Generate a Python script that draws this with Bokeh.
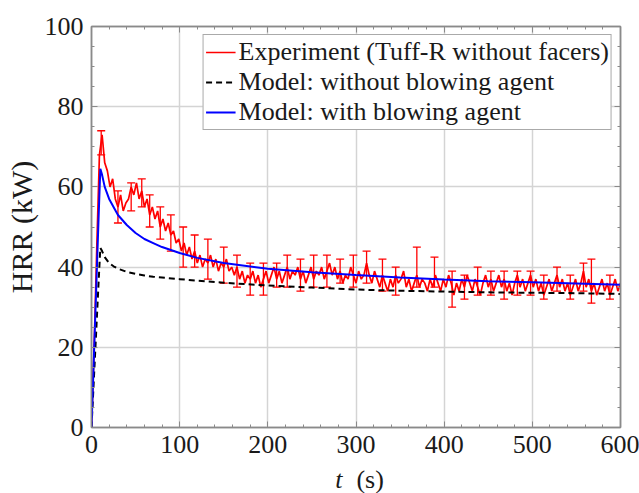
import math
from bokeh.plotting import figure
from bokeh.layouts import column
from bokeh.models import (ColumnDataSource, Whisker, TeeHead, LinearAxis, Legend,
                          LegendItem, FixedTicker)
from bokeh.core.properties import value
from bokeh.embed import file_html
from bokeh.resources import INLINE

# ---------------- data ----------------
exp_t = list(range(0, 601, 3))
exp_hrr = [0, 20, 45, 68, 73, 66, 64, 60, 62, 57, 55, 58, 54, 56, 57, 60, 58, 61, 57, 59,
           55, 57, 53, 55, 52, 54, 50, 52, 49, 51, 48, 49, 46, 47, 44, 46, 43, 45, 42, 44,
           41, 43, 40, 42, 41, 43, 40, 42, 39, 41, 40, 42, 39, 40, 38, 40, 37, 39, 36, 38,
           37, 39, 36, 38, 35, 37, 39, 36, 38, 40, 37, 39, 36, 38, 40, 37, 39, 38, 40, 37,
           39, 36, 38, 40, 37, 39, 38, 40, 37, 39, 41, 38, 40, 37, 39, 36, 38, 37, 40, 38,
           36, 39, 37, 38, 41, 38, 36, 39, 37, 35, 38, 36, 34, 37, 35, 38, 36, 37, 39, 35,
           37, 34, 36, 38, 35, 37, 36, 34, 37, 35, 38, 36, 34, 37, 35, 38, 36, 33, 36, 34,
           37, 35, 38, 36, 34, 37, 35, 33, 36, 38, 35, 37, 34, 36, 38, 35, 37, 34, 36, 33,
           36, 38, 35, 37, 34, 36, 38, 35, 37, 34, 36, 33, 35, 37, 34, 36, 38, 35, 37, 34,
           36, 33, 35, 37, 34, 36, 39, 35, 37, 34, 36, 33, 35, 37, 34, 36, 33, 35, 37, 34,
           36]

err_t = [11, 30, 45, 57, 66, 78, 90, 104, 117, 132, 150, 165, 180, 195, 210, 222, 237,
         252, 267, 282, 297, 312, 330, 345, 369, 389, 409, 423, 438, 453, 468, 483, 498,
         513, 528, 543, 558, 567, 588]
err_lo = [68, 51, 54, 55, 50, 47, 44, 40, 40, 37, 36, 35, 33, 33, 35, 35, 34,
          35, 35, 36, 35, 36, 34, 33, 35, 35, 30, 32, 33, 33, 32, 33, 33,
          32, 34, 32, 34, 31, 32]
err_hi = [74, 59, 61, 62, 58, 55, 53, 50, 48, 47, 45, 43, 41, 41, 41, 43, 42,
          43, 43, 42, 43, 44, 42, 40, 45, 42.5, 39, 38, 40, 39, 39, 39, 39,
          38, 40, 38, 41, 42, 38]

model_t = [0, 2, 4, 6, 8, 10, 12, 15, 20, 25, 30, 40, 50, 60, 70, 80, 100, 120, 150,
           200, 250, 300, 350, 400, 450, 500, 550, 600]
model_with = [0, 13, 26, 39, 52, 64.5, 63, 60, 57, 55, 53, 50.5, 48.5, 47, 46, 45, 43.5,
              42.3, 41, 39.6, 38.7, 38, 37.4, 36.9, 36.5, 36.2, 35.9, 35.6]
model_without = [0, 9, 18, 27, 36, 44.8, 44, 42.5, 41, 40.2, 39.6, 38.8, 38.3, 37.9, 37.6,
                 37.4, 37.0, 36.6, 36.1, 35.4, 34.9, 34.4, 34.1, 33.9, 33.7, 33.6, 33.5, 33.3]

x_ticks = [0, 100, 200, 300, 400, 500, 600]
y_ticks = [0, 20, 40, 60, 80, 100]

legend_labels = ["Experiment (Tuff-R without facers)",
                 "Model: without blowing agent",
                 "Model: with blowing agent"]
x_title_parts = ["t", "(s)"]

FONT = "Liberation Serif"
GRID = "#d4d4d4"
FRAME = "#8a8a8a"

# ---------------- main figure ----------------
p = figure(width=639, height=460, x_range=(0, 600), y_range=(0, 100),
           output_backend="svg", toolbar_location=None,
           min_border_left=91, min_border_right=19, min_border_top=26,
           min_border_bottom=33)
p.outline_line_color = FRAME
p.outline_line_width = 1.5
p.background_fill_color = "white"
p.border_fill_color = "white"

xt = FixedTicker(ticks=x_ticks, minor_ticks=list(range(0, 601, 20)))
yt = FixedTicker(ticks=y_ticks, minor_ticks=list(range(0, 101, 5)))

p.xaxis.ticker = xt
p.yaxis.ticker = yt
p.xgrid.ticker = xt
p.ygrid.ticker = yt
for g in (p.xgrid, p.ygrid):
    g.grid_line_color = GRID
    g.grid_line_width = 1.5

for ax in (p.xaxis[0], p.yaxis[0]):
    ax.axis_line_color = FRAME
    ax.axis_line_width = 1.5
    ax.major_tick_line_color = FRAME
    ax.minor_tick_line_color = FRAME
    ax.major_tick_in = 6
    ax.major_tick_out = 0
    ax.minor_tick_in = 3
    ax.minor_tick_out = 0
    ax.major_label_text_font = FONT
    ax.major_label_text_font_size = "26px"
    ax.major_label_text_color = "#1a1a1a"

p.xaxis.major_label_standoff = 8
p.xaxis.major_label_text_line_height = 0.95
p.yaxis.major_label_standoff = 8
p.yaxis.axis_label = "HRR (kW)"
p.yaxis.axis_label_text_font = FONT
p.yaxis.axis_label_text_font_size = "30px"
p.yaxis.axis_label_text_font_style = "normal"
p.yaxis.axis_label_text_color = "#1a1a1a"
p.yaxis.axis_label_standoff = 4

# mirrored axes (ticks only)
for loc, tk, vals in (("right", yt, y_ticks), ("above", xt, x_ticks)):
    ax = LinearAxis(ticker=tk, major_label_overrides={v: "" for v in vals})
    ax.axis_line_color = FRAME
    ax.axis_line_width = 1.5
    ax.major_tick_line_color = FRAME
    ax.minor_tick_line_color = FRAME
    ax.major_tick_in = 6
    ax.major_tick_out = 0
    ax.minor_tick_in = 3
    ax.minor_tick_out = 0
    ax.major_label_standoff = 0
    ax.major_label_text_font_size = "1px"
    p.add_layout(ax, loc)

# ---------------- glyphs ----------------
src_exp = ColumnDataSource(dict(t=exp_t, y=exp_hrr))
r_exp = p.line("t", "y", source=src_exp, line_color="#ff0000", line_width=1.7)

src_err = ColumnDataSource(dict(t=err_t, lo=err_lo, hi=err_hi))
wh = Whisker(base="t", lower="lo", upper="hi", source=src_err, dimension="height",
             line_color="#ff0000", line_width=1.3,
             upper_head=TeeHead(size=8, line_color="#ff0000", line_width=1.3),
             lower_head=TeeHead(size=8, line_color="#ff0000", line_width=1.3))
p.add_layout(wh)

r_without = p.line(model_t, model_without, line_color="black", line_width=2,
                   line_dash="6 4")
r_with = p.line(model_t, model_with, line_color="#0000ff", line_width=2)

# legend-only marker for the error bar symbol
r_bar = p.scatter(x=[], y=[], marker="dash", angle=math.pi / 2, size=17,
                  line_color="#ff0000", line_width=1.5)

legend = Legend(items=[
    LegendItem(label=legend_labels[0], renderers=[r_exp, r_bar]),
    LegendItem(label=legend_labels[1], renderers=[r_without]),
    LegendItem(label=legend_labels[2], renderers=[r_with]),
], location="top_right")
legend.label_text_font = FONT
legend.label_text_font_size = "26px"
legend.label_text_color = "#1a1a1a"
legend.glyph_width = 30
legend.glyph_height = 22
legend.label_height = 22
legend.label_standoff = 3
legend.spacing = 0
legend.padding = 2
legend.margin = 8
legend.border_line_color = "#555555"
legend.border_line_width = 1.2
legend.background_fill_alpha = 1
p.add_layout(legend)

# ---------------- x-axis title strip (italic t, upright (s)) ----------------
# frame of this strip is aligned with the main frame, so share the t axis range
q = figure(width=639, height=33, x_range=(0, 600), y_range=(0, 33),
           output_backend="svg", toolbar_location=None, title=None,
           x_axis_type=None, y_axis_type=None, min_border=0,
           min_border_left=91, min_border_right=19)
q.outline_line_color = None
q.xgrid.visible = False
q.ygrid.visible = False
q.text(x=[276.5], y=[14.5], text=[x_title_parts[0]], text_font=value(FONT),
       text_font_style="italic", text_font_size="26px", text_color="#1a1a1a",
       text_baseline="alphabetic", text_align="left")
q.text(x=[300.5], y=[14.5], text=[x_title_parts[1]], text_font=value(FONT),
       text_font_size="26px", text_color="#1a1a1a",
       text_baseline="alphabetic", text_align="left")

layout = column(p, q, spacing=0)
open("out.html", "w").write(file_html(layout, INLINE))
